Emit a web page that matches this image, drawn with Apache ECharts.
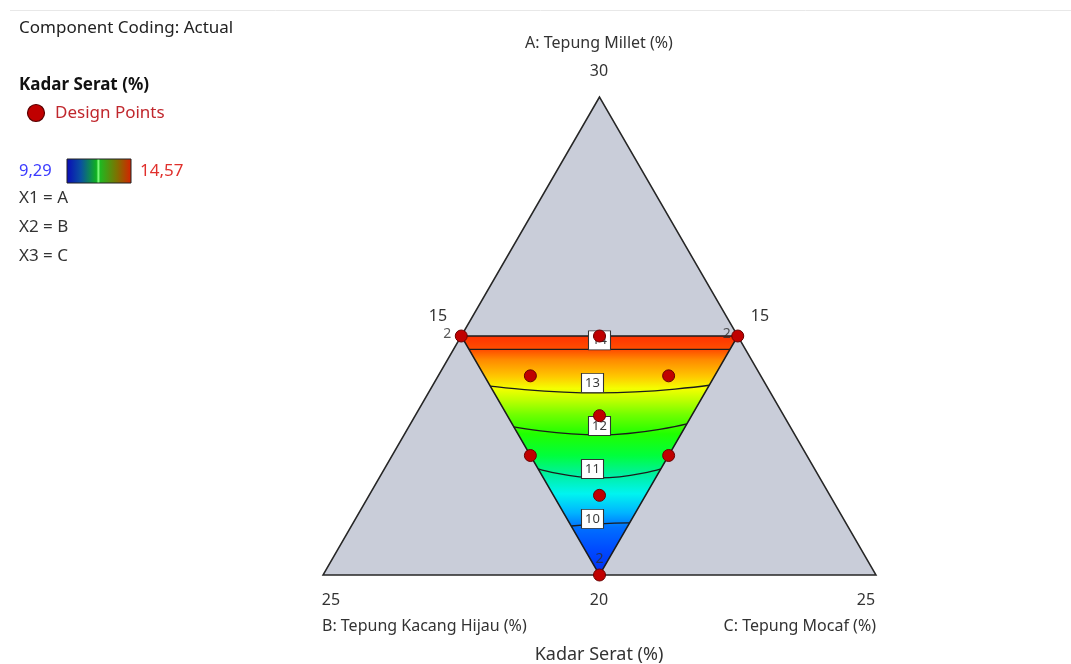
<!DOCTYPE html>
<html>
<head>
<meta charset="utf-8">
<title>Kadar Serat (%)</title>
<script src="https://cdn.jsdelivr.net/npm/echarts@6/dist/echarts.min.js"></script>
<style>
  html, body { margin: 0; padding: 0; background: #ffffff; }
  #chart { width: 1071px; height: 664px; }
</style>
</head>
<body>
<div id="chart"></div>
<script>
// ---- Mixture data (fractions of the plotted simplex: [A, B, C]) ----
const simplexVertices = [[1, 0, 0], [0, 1, 0], [0, 0, 1]];
const regionVertices = [[0.5, 0.5, 0], [0.5, 0, 0.5], [0, 0.5, 0.5]];

// Simplex-centroid design with axial check blends
const designPoints = [
  [0.5, 0.5, 0], [0.5, 0, 0.5], [0, 0.5, 0.5],
  [0.5, 0.25, 0.25], [0.25, 0.5, 0.25], [0.25, 0.25, 0.5],
  [1 / 3, 1 / 3, 1 / 3],
  [5 / 12, 5 / 12, 2 / 12], [5 / 12, 2 / 12, 5 / 12], [2 / 12, 5 / 12, 5 / 12]
];
const replicateCounts = [2, 2, 2, 1, 1, 1, 1, 1, 1, 1];

// Contour levels of Kadar Serat (%) and the A-fraction where each crosses
// the B-edge, the B=C centre line and the C-edge of the region
const contourLevels = [10, 11, 12, 13, 14];
const contourA = [
  [0.1025, 0.107, 0.109],
  [0.222, 0.203, 0.222],
  [0.310, 0.293, 0.316],
  [0.395, 0.381, 0.397],
  [0.472, 0.472, 0.472]
];

const responseMin = '9,29';
const responseMax = '14,57';
const vertexTickLabels = ['30', '15', '15', '25', '20', '25'];
const componentNames = ['A: Tepung Millet (%)', 'B: Tepung Kacang Hijau (%)', 'C: Tepung Mocaf (%)'];
const responseName = 'Kadar Serat (%)';

// ---- helpers ----
const H = Math.sqrt(3) / 2;
function tern(p) {
  const s = p[0] + p[1] + p[2];
  const a = p[0] / s, c = p[2] / s;
  return [c + a / 2, a * H];
}
function contourPoints(row) {
  return [
    tern([row[0], 0.5, 0.5 - row[0]]),
    tern([row[1], (1 - row[1]) / 2, (1 - row[1]) / 2]),
    tern([row[2], 0.5 - row[2], 0.5])
  ];
}

const FONT = "'Noto Sans', 'Open Sans', sans-serif";
const chart = echarts.init(document.getElementById('chart'));

function polygonSeries(name, verts, style, z) {
  return {
    type: 'custom', name: name, z: z, silent: true,
    coordinateSystem: 'cartesian2d',
    data: [0],
    renderItem: function (params, api) {
      return {
        type: 'polygon',
        shape: { points: verts.map(v => api.coord(tern(v))) },
        style: style
      };
    }
  };
}

const contourSeries = contourLevels.map((lvl, i) => ({
  type: 'line', name: 'contour ' + lvl, z: 4, silent: true,
  data: contourPoints(contourA[i]),
  smooth: true, symbol: 'none',
  lineStyle: { color: '#1c1c1c', width: 1.3 }
}));

// value boxes sit just above the middle of each contour
const labelOffsets = [[-7, -5], [-7, -9], [0, -9], [-7, -10], [0, -9]];
const contourLabelSeries = {
  type: 'scatter', z: 6, silent: true,
  data: contourLevels.map((lvl, i) => ({
    value: contourPoints(contourA[i])[1],
    level: lvl,
    symbolOffset: labelOffsets[i]
  })),
  symbol: 'rect', symbolSize: [22, 19],
  itemStyle: { color: '#ffffff', borderColor: '#333333', borderWidth: 1, opacity: 1 },
  label: {
    show: true, position: 'inside',
    formatter: p => String(p.data.level),
    color: '#3a3a3a', fontSize: 13, fontFamily: FONT
  }
};

const designSeries = {
  type: 'scatter', z: 8, silent: true,
  data: designPoints.map(p => tern(p)),
  symbol: 'circle', symbolSize: 12,
  itemStyle: { color: '#c00000', borderColor: '#6a0000', borderWidth: 1, opacity: 1 }
};

// replicate counts written beside the repeated blends (left, right, bottom vertex)
const repShift = [[-14, -2], [-11, -2], [0, -16]];
const repData = designPoints
  .map((p, i) => ({ xy: tern(p), rep: replicateCounts[i] }))
  .filter(d => d.rep > 1);
const replicateSeries = {
  type: 'scatter', z: 9, silent: true,
  data: repData.map((d, i) => ({
    value: d.xy, rep: d.rep,
    label: { offset: repShift[i] }
  })),
  symbol: 'circle', symbolSize: 14,
  itemStyle: { color: 'rgba(0,0,0,0)', borderWidth: 0 },
  label: {
    show: true, position: 'inside',
    formatter: p => String(p.data.rep),
    color: '#2e2e2e', fontSize: 14, fontFamily: FONT
  }
};

const regionGradient = new echarts.graphic.LinearGradient(0, 0, 0, 1, [
  { offset: 0.00, color: '#ff3200' },
  { offset: 0.06, color: '#ff5000' },
  { offset: 0.10, color: '#ff8a00' },
  { offset: 0.17, color: '#ffc800' },
  { offset: 0.22, color: '#f4ff00' },
  { offset: 0.27, color: '#bcff00' },
  { offset: 0.33, color: '#70ff00' },
  { offset: 0.41, color: '#20ff00' },
  { offset: 0.50, color: '#00ff3c' },
  { offset: 0.58, color: '#00f0a0' },
  { offset: 0.66, color: '#00f4f0' },
  { offset: 0.74, color: '#00b4ff' },
  { offset: 0.80, color: '#0070ff' },
  { offset: 0.90, color: '#0048ff' },
  { offset: 1.00, color: '#0030f0' }
]);

const txt = (x, y, text, opt) => ({
  type: 'text', x: x, y: y, silent: true,
  style: Object.assign({ text: text, fill: '#333333', font: '16px ' + FONT, textVerticalAlign: 'middle' }, (opt || {}))
});

const option = {
  animation: false,
  grid: { left: 323, top: 97, width: 553, height: 478 },
  xAxis: { type: 'value', min: 0, max: 1, show: false },
  yAxis: { type: 'value', min: 0, max: H, show: false },
  series: [
    polygonSeries('simplex', simplexVertices, { fill: '#c9cdd9', stroke: '#262626', lineWidth: 1.5 }, 1),
    polygonSeries('region', regionVertices, { fill: regionGradient, stroke: 'none' }, 2),
    ...contourSeries,
    polygonSeries('region outline', regionVertices, { fill: 'none', stroke: '#1c1c1c', lineWidth: 1.5 }, 5),
    contourLabelSeries,
    designSeries,
    replicateSeries
  ],
  graphic: [
    { type: 'line', silent: true, shape: { x1: 10, y1: 10.5, x2: 1071, y2: 10.5 }, style: { stroke: '#e8e8e8', lineWidth: 1 } },
    txt(19, 28, 'Component Coding: Actual', { font: '17px ' + FONT, fill: '#222222' }),
    txt(19, 85, responseName, { font: 'bold 17px ' + FONT, fill: '#111111' }),
    { type: 'circle', silent: true, shape: { cx: 36, cy: 113, r: 8.5 }, style: { fill: '#c00000', stroke: '#5a0000', lineWidth: 1.2 } },
    txt(55, 113, 'Design Points', { font: '17px ' + FONT, fill: '#c0272d' }),
    txt(19, 171, responseMin, { font: '16.5px ' + FONT, fill: '#3b3bff' }),
    {
      type: 'rect', silent: true, shape: { x: 67, y: 159, width: 64, height: 24 },
      style: {
        fill: new echarts.graphic.LinearGradient(0, 0, 1, 0, [
          { offset: 0, color: '#0a0ab8' },
          { offset: 0.22, color: '#0a50a0' },
          { offset: 0.46, color: '#10b020' },
          { offset: 0.49, color: '#80ff80' },
          { offset: 0.52, color: '#20b820' },
          { offset: 0.78, color: '#807000' },
          { offset: 1, color: '#d82000' }
        ]),
        stroke: '#222222', lineWidth: 1
      }
    },
    txt(140, 171, responseMax, { font: '17px ' + FONT, fill: '#e0302c' }),
    txt(19, 198, 'X1 = A', { font: '17px ' + FONT }),
    txt(19, 227, 'X2 = B', { font: '17px ' + FONT }),
    txt(19, 256, 'X3 = C', { font: '17px ' + FONT }),
    txt(599, 43, componentNames[0], { textAlign: 'center' }),
    txt(599, 71, vertexTickLabels[0], { textAlign: 'center' }),
    txt(438, 316, vertexTickLabels[1], { textAlign: 'center' }),
    txt(760, 316, vertexTickLabels[2], { textAlign: 'center' }),
    txt(331, 600, vertexTickLabels[3], { textAlign: 'center' }),
    txt(599, 600, vertexTickLabels[4], { textAlign: 'center' }),
    txt(866, 600, vertexTickLabels[5], { textAlign: 'center' }),
    txt(322, 626, componentNames[1], { textAlign: 'left' }),
    txt(876, 626, componentNames[2], { textAlign: 'right' }),
    txt(599, 655, responseName, { textAlign: 'center', font: '18px ' + FONT })
  ]
};

chart.setOption(option);
</script>
</body>
</html>
